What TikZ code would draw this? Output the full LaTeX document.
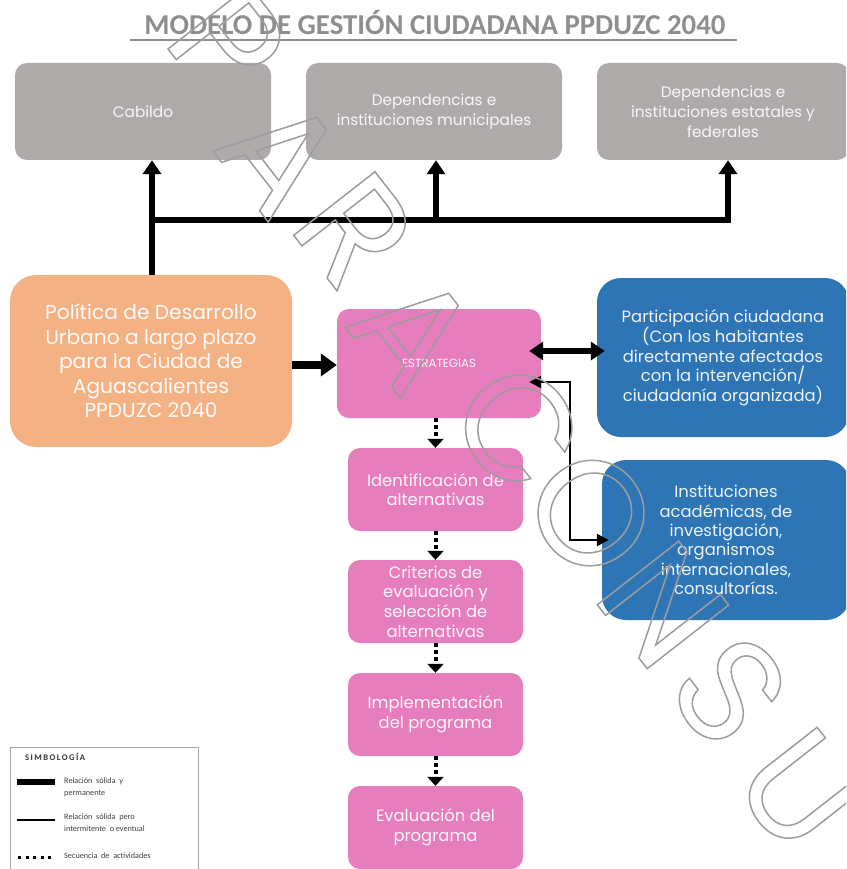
\documentclass[tikz,border=0pt]{standalone}
\usepackage{fontspec}
\setmainfont{Poppins}
\newfontfamily\calib{Carlito}
\usetikzlibrary{arrows.meta}
\definecolor{boxgray}{HTML}{AEAAAA}
\definecolor{boxorange}{HTML}{F4B183}
\definecolor{boxpink}{HTML}{E67EBE}
\definecolor{boxblue}{HTML}{2E75B6}
\definecolor{titlegray}{HTML}{8E8E8E}
\definecolor{leggray}{HTML}{A6A6A6}
\newcommand\wmout[1]{\special{pdf:literal direct 1 Tr 1.5 w 0.61 0.61 0.61 RG}#1\special{pdf:literal direct 0 Tr}}
\begin{document}
\begin{tikzpicture}[x=1pt,y=-1pt,
  box/.style={inner sep=0pt, align=center, text=white},
  graybox/.style={box, fill=boxgray, rounded corners=12pt, text=white!94!gray,
    minimum width=256pt, minimum height=97pt, font=\fontsize{15.3}{19.8}\selectfont},
  pinkbox/.style={box, fill=boxpink, rounded corners=12pt, text=white!92!boxpink,
    minimum width=175pt, minimum height=83pt, font=\fontsize{16.4}{19.6}\selectfont},
  bluebox/.style={box, fill=boxblue, rounded corners=24pt, text=white!92!boxblue,
    font=\fontsize{16.4}{19.4}\selectfont},
  orangebox/.style={box, fill=boxorange, rounded corners=26pt, text=white!94!boxorange,
    font=\fontsize{20.2}{24.5}\selectfont},
  busline/.style={line width=6pt, line cap=rect},
  busarrow/.style={line width=6pt, -{Triangle[width=18pt,length=14pt]}},
  mainarrow/.style={line width=8pt, -{Triangle[width=22pt,length=16pt]}},
  dblarrow/.style={line width=6pt, {Triangle[width=18pt,length=14pt]}-{Triangle[width=18pt,length=14pt]}},
  thinarrow/.style={line width=2.5pt, {Triangle[width=12pt,length=12pt]}-{Triangle[width=12pt,length=12pt]}},
  dotarrow/.style={line width=4pt, dash pattern=on 4pt off 3pt, -{Triangle[width=16pt,length=9pt]}},
  legtext/.style={font=\calib\fontsize{8.2}{12}\selectfont, text=black!75, anchor=west, align=left, inner sep=0pt},
  wm/.style={font=\fontsize{148}{148}\selectfont, inner sep=0pt, rotate=-52}
]
\useasboundingbox (0,0) rectangle (846,869);
\clip (0,0) rectangle (846,869);
\fill[white] (0,0) rectangle (846,869);

% title
\node[font=\calib\bfseries\fontsize{28.8}{28.8}\selectfont, text=titlegray, inner sep=0pt] (title) at (435,23) {MODELO DE GESTIÓN CIUDADANA PPDUZC 2040};
\coordinate (ulL) at (130,40);
\coordinate (ulR) at (737,40);
\draw[titlegray, line width=1.2pt] (ulL) -- (ulR);

% top boxes
\node[graybox] (cab) at (143,111.5) {Cabildo};
\node[graybox] (mun) at (434,111.5) {Dependencias e\\instituciones municipales};
\node[graybox, minimum width=252pt] (est) at (723,111.5) {Dependencias e\\instituciones estatales y\\federales};

% main boxes
\node[orangebox, minimum width=282pt, minimum height=172pt] (pol) at (151,361) {Política de Desarrollo\\Urbano a largo plazo\\para la Ciudad de\\Aguascalientes\\PPDUZC 2040};
\node[pinkbox, minimum width=204pt, minimum height=109pt, font=\fontsize{11.8}{16}\selectfont] (estr) at (439,363.5) {ESTRATEGIAS};
\node[bluebox, minimum width=252pt, minimum height=159pt] (part) at (723,357.5) {Participación ciudadana\\(Con los habitantes\\directamente afectados\\con la intervención/\\ciudadanía organizada)};
\node[bluebox, minimum width=248pt, minimum height=160pt] (inst) at (726,540) {Instituciones\\académicas, de\\investigación,\\organismos\\internacionales,\\consultorías.};

\node[pinkbox] (ide) at (435.5,489.5) {Identificación de\\alternativas};
\node[pinkbox] (cri) at (435.5,601.5) {Criterios de\\evaluación y\\selección de\\alternativas};
\node[pinkbox] (imp) at (435.5,714.5) {Implementación\\del programa};
\node[pinkbox] (eva) at (435.5,827.5) {Evaluación del\\programa};

% top bus
\coordinate (busL) at (152,220);
\coordinate (busM) at (436,220);
\coordinate (busR) at (728,220);
\draw[busline] (busL) -- (busR);
\draw[busarrow] (pol.north -| busL) -- (cab.south -| busL);
\draw[busarrow] (busM) -- (mun.south -| busM);
\draw[busarrow] (busR) -- (est.south -| busR);

% connectors
\draw[mainarrow] (pol.east |- 0,365) -- (estr.west |- 0,365);
\draw[dblarrow] ([shift={(-12,-12.5)}]estr.east) -- ([shift={(8,-6.5)}]part.west);
\draw[thinarrow] ([shift={(-12,18.5)}]estr.east) -- ++(41,0) |- ([xshift=7pt]inst.west);

\draw[dotarrow] (estr.south -| ide.north) -- (ide.north);
\draw[dotarrow] (ide.south) -- (cri.north);
\draw[dotarrow] (cri.south) -- (imp.north);
\draw[dotarrow] (imp.south) -- (eva.north);

% legend
\node[draw=leggray, line width=0.8pt, minimum width=188pt, minimum height=140pt, anchor=north west, inner sep=0pt] (leg) at (10,747) {};
\node[legtext, font=\calib\bfseries\fontsize{8.6}{10}\selectfont, text=black!80] (legt) at (25,757) {S\,I\,M\,B\,O\,L\,O\,G\,Í\,A};
\coordinate (l1a) at (17,782); \coordinate (l1b) at (55,782);
\draw[line width=6.5pt] (l1a) -- (l1b);
\node[legtext] (lt1) at (64,787) {Relación\ \ sólida\ \ y\\permanente};
\coordinate (l2a) at (17,820); \coordinate (l2b) at (55,820);
\draw[line width=2.8pt] (l2a) -- (l2b);
\node[legtext] (lt2) at (64,823) {Relación\ \ sólida\ \ pero\\intermitente\ \ o eventual};
\coordinate (l3a) at (18,857); \coordinate (l3b) at (55,857);
\draw[line width=3pt, dash pattern=on 3pt off 4.5pt] (l3a) -- (l3b);
\node[legtext] (lt3) at (64,856) {Secuencia\ \ de\ \ actividades};

% watermark
\node[wm] (w1) at (228,42) {\wmout{P}};
\node[wm] (w2) at (281,155) {\wmout{A}};
\node[wm] (w3) at (355,230) {\wmout{R}};
\node[wm] (w4) at (413,331) {\wmout{A}};
\node[wm] (w5) at (518,427) {\wmout{C}};
\node[wm] (w6) at (591,513) {\wmout{O}};
\node[wm] (w7) at (663,605) {\wmout{N}};
\node[wm] (w8) at (730,691) {\wmout{S}};
\node[wm] (w9) at (800,790) {\wmout{U}};
\node[wm] (w10) at (868,884) {\wmout{L}};
\end{tikzpicture}
\end{document}
